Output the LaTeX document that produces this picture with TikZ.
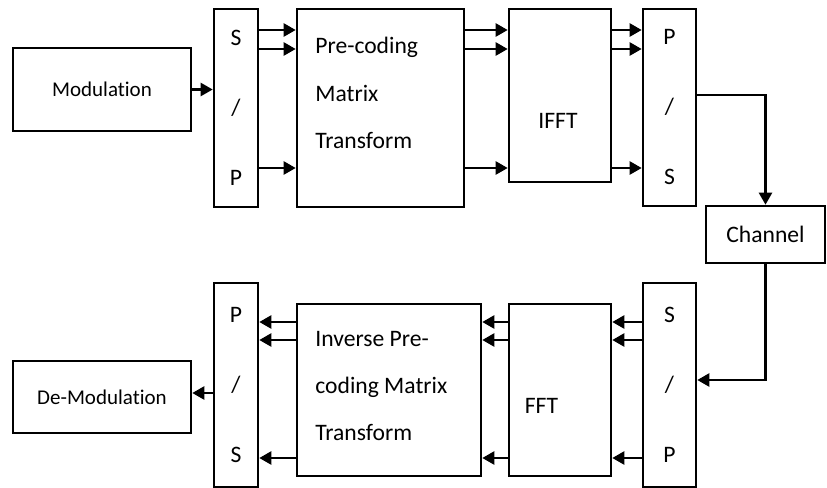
\documentclass[tikz,border=0pt]{standalone}
\usepackage{fontspec}
\setmainfont{Carlito}[Ligatures=NoCommon]
\usetikzlibrary{arrows.meta,positioning}

\begin{document}
\begin{tikzpicture}[
    x=0.5pt,y=-0.5pt,
    blk/.style={draw,line width=1.3pt,inner sep=0pt,align=center,
                font=\fontsize{11.8}{23.6}\selectfont},
    conv/.style={blk,minimum height=99pt,font=\fontsize{11.8}{35}\selectfont},
    lbl/.style={inner sep=0pt,align=left,font=\fontsize{11.8}{23.6}\selectfont},
    arrow/.style={-{Triangle[length=6pt,width=6.5pt]},line width=1.2pt}
  ]
  \useasboundingbox (0,0) rectangle (827,488);
  % transmitter
  \node[blk,minimum width=89pt,minimum height=41.5pt,font=\fontsize{10.5}{12}\selectfont] (mod) at (102,89.5) {Modulation};
  \node[conv,minimum width=22pt] (sptx) at (236,108) {S\\/\\P};
  \node[blk,minimum width=83.5pt,minimum height=99pt] (precode) at (380.5,108) {};
  \node[blk,minimum width=51pt,minimum height=86.5pt] (ifft) at (560,95.5) {};
  \node[conv,minimum width=26.5pt,minimum height=98.5pt] (pstx) at (669.5,107.5) {P\\/\\S};
  \node[blk,minimum width=59.5pt,minimum height=28.5pt] (chan) at (765.5,234.5) {Channel};
  \node[lbl,anchor=west] (precodetxt) at (315,93) {Pre-coding\\Matrix\\Transform};
  \node[lbl,anchor=base] (iffttxt) at (558,128) {IFFT};
  % receiver
  \node[conv,minimum width=22pt,minimum height=102pt] (psrx) at (236,385) {P\\/\\S};
  \node[blk,minimum width=89pt,minimum height=36pt,font=\fontsize{10.5}{12}\selectfont] (demod) at (102,397) {De-Modulation};
  \node[blk,minimum width=92pt,minimum height=86pt] (invcode) at (389,390) {};
  \node[blk,minimum width=51pt,minimum height=86pt] (fft) at (560,390) {};
  \node[conv,minimum width=26.5pt,minimum height=102pt] (sprx) at (669.5,385) {S\\/\\P};
  \node[lbl,anchor=west] (invcodetxt) at (315,386) {Inverse Pre-\\coding Matrix\\Transform};
  \node[lbl,anchor=base] (ffttxt) at (541.5,413) {FFT};
  % rows of the parallel streams
  \coordinate (ra) at (0,30);
  \coordinate (rb) at (0,49);
  \coordinate (rc) at (0,168);
  \coordinate (rx) at (0,95);
  \coordinate (sa) at (0,322);
  \coordinate (sb) at (0,340);
  \coordinate (sc) at (0,458);
  \coordinate (sx) at (0,380);
  \coordinate (sd) at (0,393);
  \draw[arrow] (mod.east) -- (mod.east -| sptx.west);
  \foreach \r in {ra,rb,rc} {
    \draw[arrow] (sptx.east |- \r) -- (precode.west |- \r);
    \draw[arrow] (precode.east |- \r) -- (ifft.west |- \r);
    \draw[arrow] (ifft.east |- \r) -- (pstx.west |- \r);
  }
  \draw[arrow] (pstx.east |- rx) -| (chan.north);
  \draw[arrow] (chan.south) |- (sprx.east |- sx);
  \foreach \r in {sa,sb,sc} {
    \draw[arrow] (sprx.west |- \r) -- (fft.east |- \r);
    \draw[arrow] (fft.west |- \r) -- (invcode.east |- \r);
    \draw[arrow] (invcode.west |- \r) -- (psrx.east |- \r);
  }
  \draw[arrow] (psrx.west |- sd) -- (demod.east |- sd);
\end{tikzpicture}
\end{document}
